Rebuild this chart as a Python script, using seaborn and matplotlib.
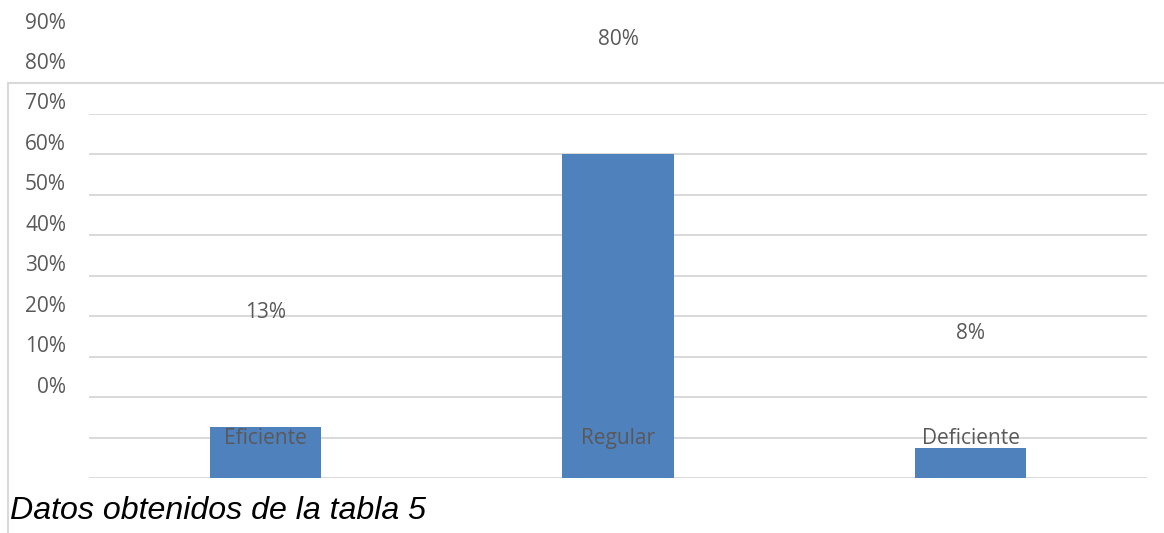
import matplotlib
matplotlib.use("Agg")
import matplotlib.pyplot as plt
import seaborn as sns
from matplotlib.patches import Rectangle

# data
categories = ["Eficiente", "Regular", "Deficiente"]
values = [0.125, 0.80, 0.075]
value_labels = ["13%", "80%", "8%"]
ytick_values = [0.0, 0.1, 0.2, 0.3, 0.4, 0.5, 0.6, 0.7, 0.8, 0.9]
ytick_labels = ["0%", "10%", "20%", "30%", "40%", "50%", "60%", "70%", "80%", "90%"]
caption = "Datos obtenidos de la tabla 5"

BAR = "#4F81BD"
GRID = "#D9D9D9"
TEXT = "#595959"
W, H = 1164, 533

sns.set_style("white")
plt.rcParams["font.family"] = ["Open Sans", "DejaVu Sans"]

fig = plt.figure(figsize=(W / 100, H / 100), dpi=100)
ax = fig.add_axes([89 / W, 55 / H, 1058 / W, 364 / H])

sns.barplot(x=categories, y=values, color=BAR, saturation=1, width=0.315,
            linewidth=0, ax=ax)

ax.set_ylim(0, 0.9)
ax.set_yticks(ytick_values)
ax.grid(axis="y", color=GRID, linewidth=1.4)
ax.set_axisbelow(True)
ax.xaxis.set_zorder(3)
sns.despine(ax=ax, left=True, bottom=True)
ax.set_xlabel("")
ax.set_ylabel("")

# the odd Word-export layout: labels are shifted up from where they belong
ax.tick_params(axis="y", length=0, labelleft=False)
ax.tick_params(axis="x", length=0, pad=-36, labelsize=15, labelcolor=TEXT)

for v, lab in zip(ytick_values, ytick_labels):
    ax.annotate(lab, xy=(0, v), xycoords=("axes fraction", "data"),
                xytext=(-16.5, 65.5), textcoords="offset points",
                ha="right", va="center", fontsize=15, color=TEXT,
                annotation_clip=False)

for i, (v, lab) in enumerate(zip(values, value_labels)):
    ax.annotate(lab, xy=(i, v), xytext=(0, 82.5), textcoords="offset points",
                ha="center", va="center", fontsize=15, color=TEXT,
                annotation_clip=False)

# chart area border, partly cut off by the crop
fig.patches.append(Rectangle((8 / W, -0.2), 1.2, 0.2 + (H - 83) / H,
                             transform=fig.transFigure, fill=False,
                             edgecolor=GRID, linewidth=1.5))

fig.text(10 / W, 14 / H, caption, fontstyle="italic", family="Liberation Sans",
         fontsize=23.1, color="black", va="baseline", ha="left")

fig.savefig("out.png", dpi=100)
